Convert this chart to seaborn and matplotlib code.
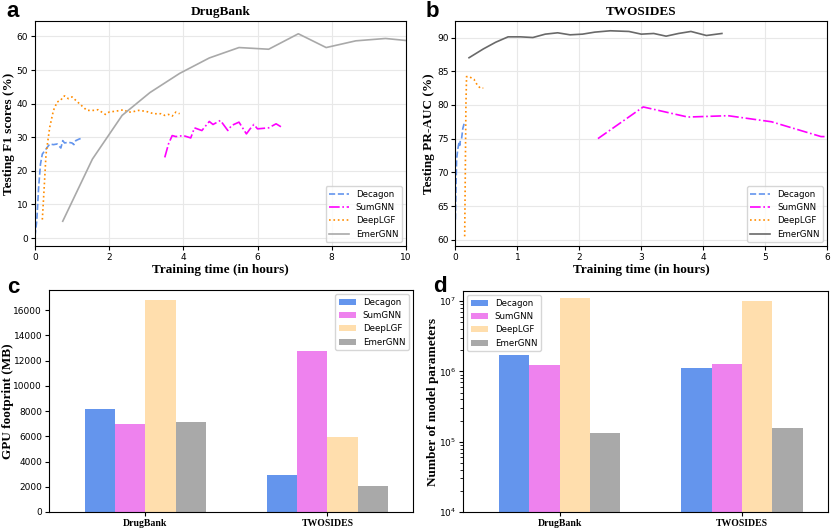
import pandas as pd
import matplotlib.pyplot as plt
import seaborn as sns
import numpy as np

# ---- data: panel a (DrugBank, F1 vs time) ----
a_decagon_x = [0.0, 0.05, 0.1, 0.15, 0.2, 0.3, 0.4, 0.5, 0.6, 0.7, 0.75, 0.8, 0.9, 1.0, 1.05, 1.1, 1.2, 1.3]
a_decagon_y = [0.5, 5, 15, 22, 25, 26.5, 28, 27.8, 28, 26.8, 29, 28.3, 28.5, 28.3, 27.8, 29, 29.5, 29.8]
a_sumgnn_x = [3.5, 3.6, 3.7, 3.8, 4.0, 4.2, 4.3, 4.5, 4.7, 4.8, 5.0, 5.2, 5.3, 5.5, 5.7, 5.8, 5.9, 6.0, 6.3, 6.5, 6.65]
a_sumgnn_y = [24, 28, 30.5, 30.2, 30.5, 29.8, 32.8, 32.0, 34.7, 33.8, 35, 32, 33.5, 34.5, 31, 32.5, 33.8, 32.5, 32.8, 34, 33]
a_deeplgf_x = [0.2, 0.25, 0.3, 0.4, 0.5, 0.6, 0.7, 0.75, 0.8, 0.9, 1.0, 1.1, 1.2, 1.3, 1.4, 1.5, 1.6, 1.7,
               1.8, 1.9, 2.0, 2.2, 2.4, 2.5, 2.6, 2.8, 3.0, 3.2, 3.4, 3.5, 3.6, 3.7, 3.8, 3.9]
a_deeplgf_y = [5.5, 15, 25, 33, 38, 40.5, 41, 42, 42.3, 41.5, 42, 41, 40, 39, 38, 38, 38, 38.2,
               37.5, 36.8, 37.5, 37.8, 38.2, 37.5, 37.5, 38, 37.7, 37, 37, 36.5, 36.8, 36.3, 37.5, 37]
a_emergnn_x = [0.75, 1.55, 2.35, 3.1, 3.9, 4.7, 5.5, 6.3, 7.1, 7.85, 8.65, 9.45, 10.0]
a_emergnn_y = [5, 23.5, 36.5, 43.3, 49, 53.6, 56.7, 56.2, 60.8, 56.7, 58.7, 59.4, 58.8]

# ---- data: panel b (TWOSIDES, PR-AUC vs time) ----
b_decagon_x = [0.0, 0.01, 0.02, 0.04, 0.06, 0.07, 0.08, 0.1, 0.12, 0.14]
b_decagon_y = [63, 68, 72, 73.5, 74.5, 74, 74.7, 75, 76.5, 77.2]
b_sumgnn_x = [2.3, 3.03, 3.75, 4.4, 5.1, 5.9, 6.0]
b_sumgnn_y = [75, 79.7, 78.2, 78.4, 77.5, 75.3, 75.3]
b_deeplgf_x = [0.15, 0.16, 0.17, 0.18, 0.22, 0.3, 0.35, 0.4, 0.45]
b_deeplgf_y = [60.5, 70, 80, 84.2, 84.2, 83.8, 83, 82.5, 82.5]
b_emergnn_x = [0.22, 0.45, 0.65, 0.85, 1.05, 1.25, 1.45, 1.65, 1.85, 2.05, 2.25, 2.5, 2.8, 3.0,
               3.2, 3.4, 3.6, 3.8, 4.05, 4.3]
b_emergnn_y = [87, 88.3, 89.3, 90.1, 90.1, 90.0, 90.5, 90.7, 90.4, 90.5, 90.8, 91.0, 90.9, 90.5,
               90.6, 90.2, 90.6, 90.9, 90.3, 90.6]

# ---- data: bars ----
datasets = ['DrugBank', 'TWOSIDES']
models = ['Decagon', 'SumGNN', 'DeepLGF', 'EmerGNN']
gpu_mb = {'Decagon': [8200, 2900], 'SumGNN': [6950, 12750],
          'DeepLGF': [16800, 5950], 'EmerGNN': [7100, 2050]}
n_params = {'Decagon': [1.73e6, 1.13e6], 'SumGNN': [1.22e6, 1.26e6],
            'DeepLGF': [1.1e7, 1.0e7], 'EmerGNN': [1.35e5, 1.55e5]}

bar_colors = ['cornflowerblue', 'violet', 'navajowhite', 'darkgray']

serif = 'Liberation Serif'
plt.rcParams['font.family'] = ['DejaVu Sans']

fig = plt.figure(figsize=(8.31, 5.30), dpi=100)
ax_a = fig.add_axes([0.042, 0.535, 0.4465, 0.426])
ax_b = fig.add_axes([0.548, 0.535, 0.4475, 0.426])
ax_c = fig.add_axes([0.059, 0.034, 0.438, 0.419])
ax_d = fig.add_axes([0.557, 0.034, 0.439, 0.417])


def line_panel(ax, series, emer_color):
    styles = [('Decagon', 'cornflowerblue', '--'), ('SumGNN', 'magenta', '-.'),
              ('DeepLGF', 'darkorange', ':'), ('EmerGNN', emer_color, '-')]
    for (name, col, ls), (xs, ys) in zip(styles, series):
        sns.lineplot(x=xs, y=ys, ax=ax, color=col, linestyle=ls, lw=1.2, label=name)
    ax.grid(True, color='#e8e8e8', lw=0.8)
    ax.set_axisbelow(True)
    ax.tick_params(labelsize=6.5, length=3, pad=2)
    ax.legend(loc='lower right', fontsize=6.2, handlelength=2.3, borderpad=0.4, labelspacing=0.5)
    ax.set_xlabel('Training time (in hours)', family=serif, weight='bold', fontsize=9.5, labelpad=1)


line_panel(ax_a, [(a_decagon_x, a_decagon_y), (a_sumgnn_x, a_sumgnn_y),
                  (a_deeplgf_x, a_deeplgf_y), (a_emergnn_x, a_emergnn_y)], 'darkgray')
ax_a.set_xlim(0, 10)
ax_a.set_ylim(-2.5, 64.7)
ax_a.set_title('DrugBank', family=serif, weight='bold', fontsize=9.5, pad=4)
ax_a.set_ylabel('Testing F1 scores (%)', family=serif, weight='bold', fontsize=9.5)
ax_a.yaxis.set_label_coords(-0.054, 0.5)

line_panel(ax_b, [(b_decagon_x, b_decagon_y), (b_sumgnn_x, b_sumgnn_y),
                  (b_deeplgf_x, b_deeplgf_y), (b_emergnn_x, b_emergnn_y)], 'dimgray')
ax_b.set_xlim(0, 6)
ax_b.set_ylim(59, 92.5)
ax_b.set_title('TWOSIDES', family=serif, weight='bold', fontsize=9.5, pad=4)
ax_b.set_ylabel('Testing PR-AUC (%)', family=serif, weight='bold', fontsize=9.5)
ax_b.yaxis.set_label_coords(-0.056, 0.5)


def bar_panel(ax, values):
    df = pd.DataFrame([(d, m, values[m][i]) for m in models for i, d in enumerate(datasets)],
                      columns=['dataset', 'model', 'value'])
    sns.barplot(data=df, x='dataset', y='value', hue='model', hue_order=models,
                palette=bar_colors, width=0.667, ax=ax, saturation=1)
    ax.set_xlim(-0.53, 1.47)
    ax.set_xlabel('')
    ax.tick_params(labelsize=6.5, length=3, pad=2)
    for lab in ax.get_xticklabels():
        lab.set_family(serif)
        lab.set_weight('bold')
        lab.set_fontsize(7)


bar_panel(ax_c, gpu_mb)
ax_c.set_ylim(0, 17600)
ax_c.set_ylabel('GPU footprint (MB)', family=serif, weight='bold', fontsize=9.5)
ax_c.yaxis.set_label_coords(-0.096, 0.5)
ax_c.legend(loc='upper right', fontsize=6.2, labelspacing=0.5)

bar_panel(ax_d, n_params)
ax_d.set_yscale('log')
ax_d.set_ylim(1e4, 1.4e7)
ax_d.set_ylabel('Number of model parameters', family=serif, weight='bold', fontsize=9.5)
ax_d.yaxis.set_label_coords(-0.066, 0.5)
ax_d.legend(loc='upper left', fontsize=6.2, labelspacing=0.5)

for txt, x, y in [('a', 0.008, 0.979), ('b', 0.512, 0.979), ('c', 0.008, 0.458), ('d', 0.521, 0.46)]:
    fig.text(x, y, txt, family='Liberation Sans', weight='bold', fontsize=16, va='center')

fig.savefig('out.png', dpi=100)
